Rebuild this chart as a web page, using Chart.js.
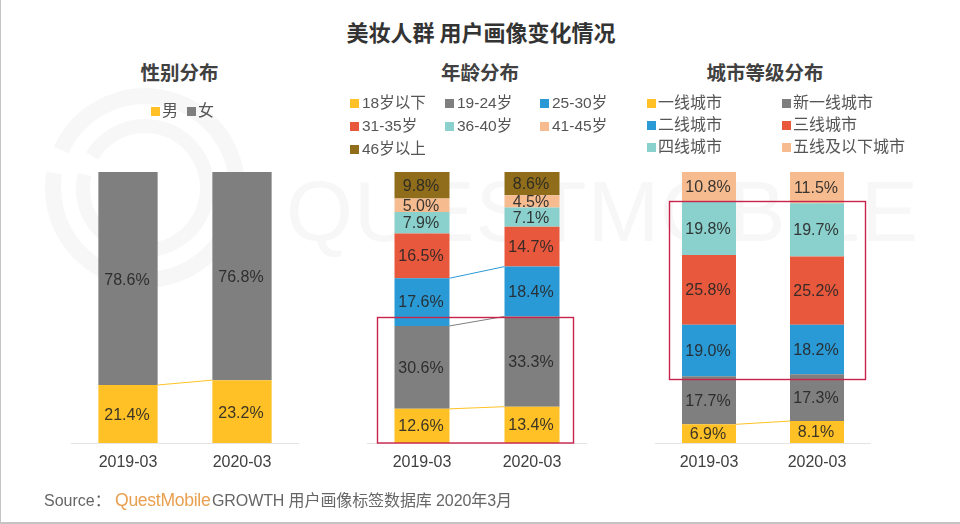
<!DOCTYPE html>
<html lang="zh"><head><meta charset="utf-8">
<script src="https://cdn.jsdelivr.net/npm/chart.js@4"></script>
<style>
html,body{margin:0;padding:0;background:#fff;}
#page{position:relative;width:960px;height:524px;overflow:hidden;background:#fff;box-sizing:border-box;font-family:"Liberation Sans","Noto Sans CJK SC",sans-serif;}
.t{position:absolute;white-space:nowrap;transform:translateY(-50%);line-height:1;}
.c{transform:translate(-50%,-50%);}
.sw{position:absolute;width:9px;height:9px;}
canvas{position:absolute;}
#edgeL{position:absolute;left:0;top:0;width:1px;height:524px;background:#c4c4c4;}
#edgeB{position:absolute;left:0;top:522px;width:960px;height:2px;background:#c4c4c4;}
</style></head><body>
<div id="page">
<svg width="960" height="524" style="position:absolute;left:0;top:0">
  <g fill="none" stroke="#f7f7f7">
    <circle cx="145" cy="188" r="92" stroke-width="16" stroke-dasharray="440 24 114 0" transform="rotate(-85 145 188)"/>
    <circle cx="145" cy="188" r="62" stroke-width="14" stroke-dasharray="300 20 70 0" transform="rotate(-85 145 188)"/>
  </g>
  <text x="286" y="241" font-family="Liberation Sans" font-size="86" fill="#f7f7f7" textLength="632" lengthAdjust="spacing">QUESTMOBILE</text>
</svg>
<div class="t c" style="left:481px;top:31px;font-size:22px;font-weight:bold;color:#333;font-family:'Noto Sans CJK SC'">美妆人群 用户画像变化情况</div>
<div class="t c" style="left:179.5px;top:72px;font-size:19.5px;font-weight:bold;color:#404040;font-family:'Noto Sans CJK SC'">性别分布</div>
<div class="t c" style="left:480px;top:72px;font-size:19.5px;font-weight:bold;color:#404040;font-family:'Noto Sans CJK SC'">年龄分布</div>
<div class="t c" style="left:765px;top:72px;font-size:19.5px;font-weight:bold;color:#404040;font-family:'Noto Sans CJK SC'">城市等级分布</div>
<canvas id="c1" style="left:71px;top:172px"></canvas>
<canvas id="c2" style="left:367px;top:172px"></canvas>
<canvas id="c3" style="left:655px;top:172px"></canvas>
<svg width="960" height="524" style="position:absolute;left:0;top:0">
  <g fill="none" stroke="#c8234c" stroke-width="1.4">
    <rect x="377.5" y="317.5" width="196" height="125.5"/>
    <rect x="669.5" y="201.5" width="196" height="178"/>
  </g>
</svg>
<div class="t" style="left:44px;top:501px;font-size:16px;color:#666">Source：</div>
<div class="t" style="left:115px;top:501px;font-size:17.6px;color:#e9a050;letter-spacing:-.3px">QuestMobile</div>
<div class="t" style="left:212px;top:501px;font-size:16px;color:#666;letter-spacing:-.1px">GROWTH 用户画像标签数据库 2020年3月</div>
<div id="edgeL"></div><div id="edgeB"></div>
</div>
<script>
const periods = ['2019-03', '2020-03'];

const genderNames = ['男', '女'];
const genderFirst = [21.4, 78.6];
const genderSecond = [23.2, 76.8];

const ageNames = ['18岁以下', '19-24岁', '25-30岁', '31-35岁', '36-40岁', '41-45岁', '46岁以上'];
const ageFirst = [12.6, 30.6, 17.6, 16.5, 7.9, 5.0, 9.8];
const ageSecond = [13.4, 33.3, 18.4, 14.7, 7.1, 4.5, 8.6];

const cityNames = ['一线城市', '新一线城市', '二线城市', '三线城市', '四线城市', '五线及以下城市'];
const cityFirst = [6.9, 17.7, 19.0, 25.8, 19.8, 10.8];
const citySecond = [8.1, 17.3, 18.2, 25.2, 19.7, 11.5];

const genderColors = ['#FFC125', '#7F7F7F'];
const ageColors = ['#FFC125', '#7F7F7F', '#2A9AD6', '#E8583C', '#8AD0CC', '#F6BC90', '#8F6D1A'];
const cityColors = ['#FFC125', '#7F7F7F', '#2A9AD6', '#E8583C', '#8AD0CC', '#F6BC90'];

const FONT = '"Liberation Sans","Noto Sans CJK SC",sans-serif';

const overlay = {
  id: 'overlay',
  afterDatasetsDraw(chart, args, opts) {
    const ctx = chart.ctx;
    ctx.save();
    opts.connect.forEach(i => {
      const bars = chart.getDatasetMeta(i).data;
      const a = bars[0], b = bars[1];
      ctx.strokeStyle = chart.data.datasets[i].backgroundColor;
      ctx.lineWidth = 1;
      ctx.beginPath();
      ctx.moveTo(a.x + a.width / 2, a.y);
      ctx.lineTo(b.x - b.width / 2, b.y);
      ctx.stroke();
    });
    ctx.font = '16px ' + FONT;
    ctx.fillStyle = 'rgba(38,38,38,0.9)';
    ctx.textAlign = 'center';
    ctx.textBaseline = 'middle';
    chart.data.datasets.forEach((ds, i) => {
      chart.getDatasetMeta(i).data.forEach((bar, j) => {
        ctx.fillText(ds.data[j].toFixed(1) + '%', bar.x - 1, (bar.y + bar.base) / 2 + opts.shift);
      });
    });
    ctx.restore();
  }
};

function build(id, width, barShare, names, first, second, colors, connect, shift) {
  const canvas = document.getElementById(id);
  canvas.style.width = width + 'px';
  canvas.style.height = '300px';
  canvas.width = width; canvas.height = 300;
  new Chart(canvas, {
    type: 'bar',
    plugins: [overlay],
    data: {
      labels: periods,
      datasets: names.map((n, i) => ({
        label: n,
        data: [first[i], second[i]],
        backgroundColor: colors[i],
        borderWidth: 0,
        categoryPercentage: 1,
        barPercentage: barShare
      }))
    },
    options: {
      responsive: false,
      animation: false,
      devicePixelRatio: 1,
      layout: { padding: 0 },
      plugins: { legend: { display: false }, tooltip: { enabled: false }, overlay: { connect, shift } },
      scales: {
        x: {
          stacked: true,
          afterFit(s) { s.height = 29; },
          grid: { display: false, drawTicks: false },
          border: { display: true, color: '#e4e4e4', width: 1 },
          ticks: { color: '#404040', font: { size: 16, family: FONT }, padding: 10, maxRotation: 0 }
        },
        y: { stacked: true, display: false, min: 0, max: 100 }
      }
    }
  });
}

build('c1', 228, 0.52, genderNames, genderFirst, genderSecond, genderColors, [0], 2);
build('c2', 220, 0.50, ageNames, ageFirst, ageSecond, ageColors, [0, 1, 2], 1);
build('c3', 216, 0.50, cityNames, cityFirst, citySecond, cityColors, [0], 1);

function legend(names, colors, slots, textGap, size) {
  const page = document.getElementById('page');
  names.forEach((n, i) => {
    const [x, y] = slots[i];
    const s = document.createElement('div');
    s.className = 'sw';
    s.style.cssText = `left:${x}px;top:${y - 4}px;background:${colors[i]}`;
    page.appendChild(s);
    const t = document.createElement('div');
    t.className = 't';
    t.textContent = n;
    t.style.cssText = `left:${x + textGap}px;top:${y}px;font-size:${size}px;color:#555`;
    page.appendChild(t);
  });
}
legend(genderNames, genderColors, [[151, 111], [187, 111]], 11, 16);
legend(ageNames, ageColors, [[350, 103], [445, 103], [540, 103], [350, 126], [445, 126], [540, 126], [350, 149]], 12, 15.5);
legend(cityNames, cityColors, [[647, 103], [782, 103], [647, 125], [782, 125], [647, 147], [782, 147]], 11, 16);
</script>
</body></html>
